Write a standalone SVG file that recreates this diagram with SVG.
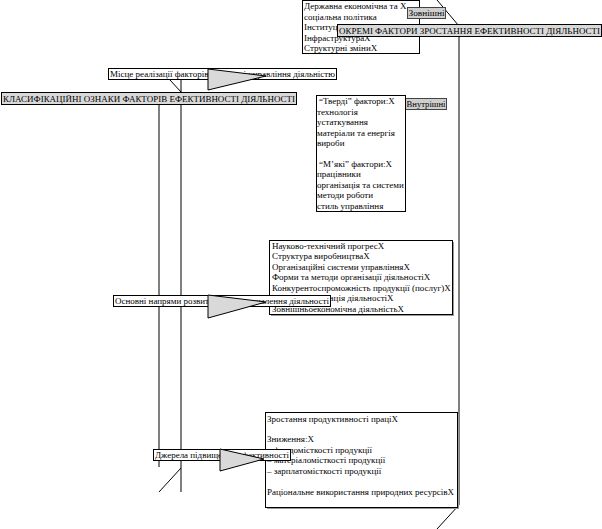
<svg xmlns="http://www.w3.org/2000/svg" width="602" height="529" viewBox="0 0 602 529">
<style>
text{font-family:"Liberation Serif","Times New Roman",serif;font-size:9px;fill:#000}
.box{fill:#fff;stroke:#000;stroke-width:1}
.shadow{fill:#9a9a9a}
.lbl{fill:#fff;stroke:#000;stroke-width:1}
.title{fill:#d9d9d9;stroke:#000;stroke-width:1}
.tag{fill:#cfcfcf;stroke:#444;stroke-width:1}
.ln{stroke:#000;stroke-width:1;fill:none}
.tri{fill:#d9d9d9;stroke:#000;stroke-width:1}
</style>
<rect width="602" height="529" fill="#fff"/>

<g id="connectors">
  <line class="ln" x1="159" y1="104" x2="159" y2="467"/>
  <line class="ln" x1="181" y1="68" x2="181" y2="492"/>
  <line class="ln" x1="159" y1="68" x2="181" y2="92"/>
  <line class="ln" x1="181" y1="468" x2="159" y2="492"/>
  <line class="ln" x1="437" y1="0" x2="459" y2="26"/>
  <line class="ln" x1="459" y1="30" x2="459" y2="505" stroke="#333"/>
  <line class="ln" x1="459" y1="505" x2="437" y2="529"/>
</g>

<g id="node-state">
  <rect class="box" x="302.5" y="0.5" width="117" height="53"/>
  <text x="304" y="9">Державна економічна та Х</text>
  <text x="304" y="19.5">соціальна політика</text>
  <text x="304" y="30">Інституційні перетворенняХ</text>
  <text x="304" y="40.5">ІнфраструктураХ</text>
  <text x="304" y="51">Структурні зміниХ</text>
</g>

<g id="node-external">
  <rect class="tag" x="407.5" y="7.5" width="38" height="11"/>
  <text x="408.5" y="16" textLength="36" lengthAdjust="spacingAndGlyphs">Зовнішні</text>
</g>

<g id="node-title-right">
  <rect class="title" x="337.5" y="24.5" width="264" height="12"/>
  <text x="339" y="33.5" textLength="261" lengthAdjust="spacingAndGlyphs">ОКРЕМІ ФАКТОРИ ЗРОСТАННЯ ЕФЕКТИВНОСТІ ДІЯЛЬНОСТІ</text>
</g>

<g id="node-place">
  <rect class="lbl" x="108.5" y="68.5" width="228" height="11"/>
  <text x="110" y="77" textLength="225" lengthAdjust="spacingAndGlyphs">Місце реалізації факторів в системі управління діяльністю</text>
  <polygon class="tri" points="208,69 208,90 266,76"/>
</g>

<g id="node-title-left">
  <rect class="title" x="1.5" y="92.5" width="295" height="12"/>
  <text x="3" y="101.5" textLength="292" lengthAdjust="spacingAndGlyphs">КЛАСИФІКАЦІЙНІ ОЗНАКИ ФАКТОРІВ ЕФЕКТИВНОСТІ ДІЯЛЬНОСТІ</text>
</g>

<g id="node-internal">
  <rect class="tag" x="405.5" y="98.5" width="41" height="11"/>
  <text x="406.5" y="107" textLength="39" lengthAdjust="spacingAndGlyphs">Внутрішні</text>
</g>

<g id="node-hard-soft">
  <rect class="box" x="316.5" y="95.5" width="89" height="116"/>
  <text x="319" y="104">“Тверді” фактори:Х</text>
  <text x="317" y="114.5">технологія</text>
  <text x="317" y="125">устаткування</text>
  <text x="317" y="135.5">матеріали та енергія</text>
  <text x="317" y="146">вироби</text>
  <text x="319" y="166.5">“М’які” фактори:Х</text>
  <text x="317" y="177">працівники</text>
  <text x="317" y="187.5">організація та системи</text>
  <text x="317" y="198">методи роботи</text>
  <text x="317" y="208.5">стиль управління</text>
</g>

<g id="node-directions-list">
  <rect class="shadow" x="271" y="242" width="183" height="74"/>
  <rect class="box" x="269.5" y="240.5" width="183" height="74"/>
  <text x="272" y="248.5">Науково-технічний прогресХ</text>
  <text x="272" y="259">Структура виробництваХ</text>
  <text x="272" y="269.5">Організаційні системи управлінняХ</text>
  <text x="272" y="280">Форми та методи організації діяльностіХ</text>
  <text x="272" y="290.5">Конкурентоспроможність продукції (послуг)Х</text>
  <text x="272" y="301">Система мотивація діяльностіХ</text>
  <text x="272" y="311.5">Зовнішньоекономічна діяльністьХ</text>
</g>

<g id="node-directions">
  <rect class="lbl" x="113.5" y="295.5" width="217" height="11"/>
  <text x="115" y="304" textLength="214" lengthAdjust="spacingAndGlyphs">Основні напрями розвитку та вдосконалення діяльності</text>
  <polygon class="tri" points="208,295 208,318 266,302"/>
</g>

<g id="node-sources-list">
  <rect class="shadow" x="267" y="414" width="192" height="95"/>
  <rect class="box" x="265.5" y="412.5" width="192" height="95"/>
  <text x="267" y="421.5">Зростання продуктивності праціХ</text>
  <text x="267" y="442">Зниження:Х</text>
  <text x="267" y="452.5">– фондомісткості продукції</text>
  <text x="267" y="463">– матеріаломісткості продукції</text>
  <text x="267" y="473.5">– зарплатомісткості продукції</text>
  <text x="267" y="494.5">Раціональне використання природних ресурсівХ</text>
</g>

<g id="node-sources">
  <rect class="lbl" x="153.5" y="449.5" width="137" height="11"/>
  <text x="155" y="458" textLength="134" lengthAdjust="spacingAndGlyphs">Джерела підвищення ефективності</text>
  <polygon class="tri" points="220,449 220,471 264,459"/>
</g>
</svg>
